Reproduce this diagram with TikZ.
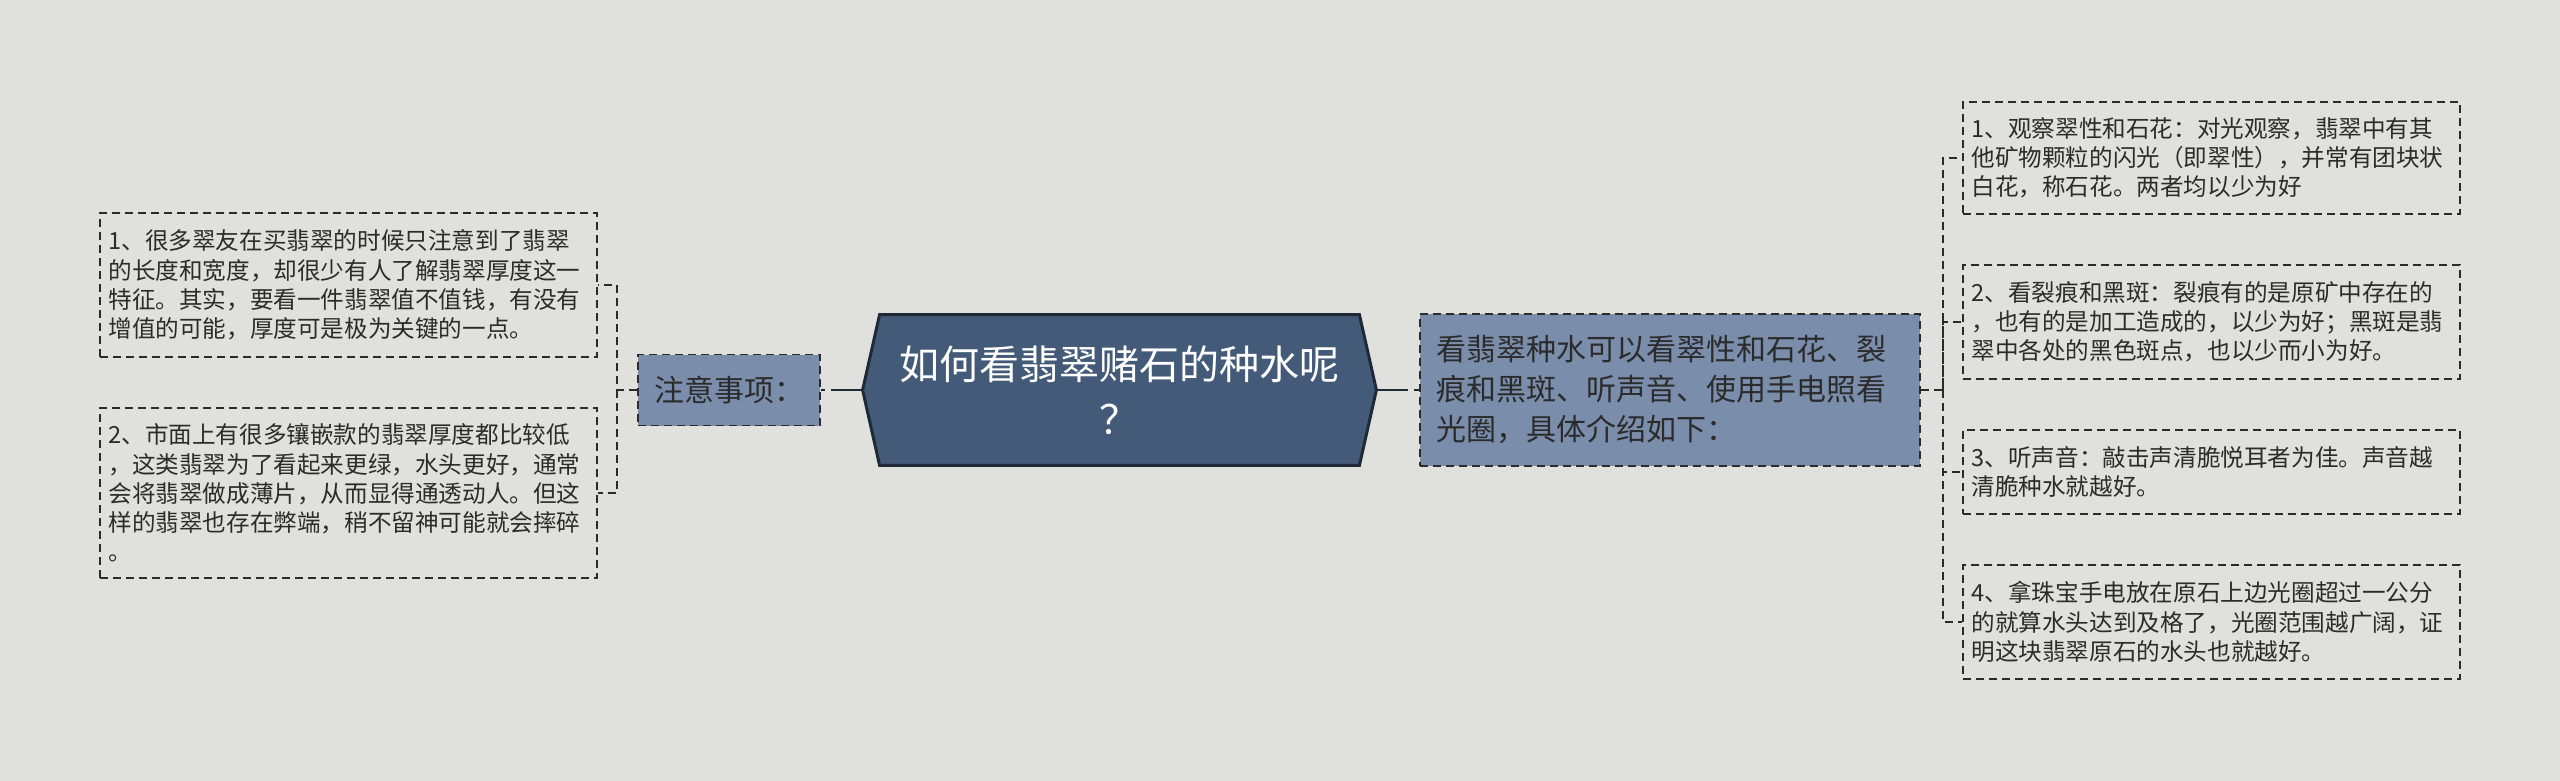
\documentclass[tikz,border=0pt]{standalone}
\usepackage{fontspec}
\setmainfont{Noto Sans CJK SC}
\usetikzlibrary{positioning, backgrounds}
\definecolor{bgcol}{HTML}{E0E1DC}
\definecolor{rootfill}{HTML}{435A79}
\definecolor{subfill}{HTML}{7A8DAB}
\definecolor{ink}{HTML}{2B2B2B}
\definecolor{edgecol}{HTML}{1E2A38}

\begin{document}
\begin{tikzpicture}[
		x=0.5pt, y=-0.5pt,
		box/.style={draw=ink,line width=0.9pt,dash pattern=on 4pt off 2.5pt,text=ink,inner ysep=0pt},
		leaf/.style={box,font=\fontsize{11.8}{14.6}\selectfont,text width=240pt,inner xsep=4.25pt,align=left},
		sub/.style={box,fill=subfill,font=\fontsize{15}{20}\selectfont},
		root/.style={text=white,font=\fontsize{20}{27.5}\selectfont,align=center,
			minimum width=239.5pt,minimum height=75pt,inner sep=0pt},
		hexa/.style={fill=rootfill,draw=edgecol,line width=1.5pt,line join=miter},
		link/.style={draw=ink,line width=0.9pt,dash pattern=on 4pt off 2.5pt},
		rootlink/.style={draw=edgecol,line width=1.4pt,dash pattern=on 16pt off 3pt on 10pt}]
		\node[root] (title) at (1119.5,390) {如何看翡翠赌石的种水呢\\？};
		\coordinate (hl) at ([xshift=-8.5pt]title.west);
		\coordinate (hr) at ([xshift=8.5pt]title.east);

		\node[sub,minimum width=91pt,minimum height=35.5pt,inner xsep=0pt] (notes) at (729,390) {注意事项：};
		\node[sub,text width=234pt,inner xsep=8pt,align=left,minimum height=76pt] (intro) at (1670,390)
			{看翡翠种水可以看翠性和石花、裂\\痕和黑斑、听声音、使用手电照看\\光圈，具体介绍如下：};

		\node[leaf,minimum height=72pt] (l1) at (348.5,285)
			{1、很多翠友在买翡翠的时候只注意到了翡翠\\的长度和宽度，却很少有人了解翡翠厚度这一\\特征。其实，要看一件翡翠值不值钱，有没有\\增值的可能，厚度可是极为关键的一点。};
		\node[leaf,minimum height=85pt] (l2) at (348.5,493)
			{2、市面上有很多镶嵌款的翡翠厚度都比较低\\，这类翡翠为了看起来更绿，水头更好，通常\\会将翡翠做成薄片，从而显得通透动人。但这\\样的翡翠也存在弊端，稍不留神可能就会摔碎\\。};

		\node[leaf,minimum height=56pt] (r1) at (2211.5,158)
			{1、观察翠性和石花：对光观察，翡翠中有其\\他矿物颗粒的闪光（即翠性），并常有团块状\\白花，称石花。两者均以少为好};
		\node[leaf,minimum height=57pt] (r2) at (2211.5,322)
			{2、看裂痕和黑斑：裂痕有的是原矿中存在的\\，也有的是加工造成的，以少为好；黑斑是翡\\翠中各处的黑色斑点，也以少而小为好。};
		\node[leaf,minimum height=42pt] (r3) at (2211.5,472)
			{3、听声音：敲击声清脆悦耳者为佳。声音越\\清脆种水就越好。};
		\node[leaf,minimum height=57pt] (r4) at (2211.5,622)
			{4、拿珠宝手电放在原石上边光圈超过一公分\\的就算水头达到及格了，光圈范围越广阔，证\\明这块翡翠原石的水头也就越好。};

		\begin{scope}[on background layer]
			\fill[bgcol] (0,0) rectangle (2560,781);
			\draw[hexa] (hl) -- (title.north west) -- (title.north east) -- (hr)
				-- (title.south east) -- (title.south west) -- cycle;
		\end{scope}

		\draw[rootlink] (hl) -- (notes.east);
		\draw[rootlink] (hr) -- (intro.west);

		\coordinate (lj) at (617,390);
		\draw[link] (notes.west) -- (lj) |- (l1.east);
		\draw[link] (lj) |- (l2.east);

		\coordinate (rj) at (1943,390);
		\draw[link] (intro.east) -- (rj) |- (r1.west);
		\draw[link] (rj) |- (r2.west);
		\draw[link] (rj) |- (r3.west);
		\draw[link] (rj) |- (r4.west);
\end{tikzpicture}
\end{document}
